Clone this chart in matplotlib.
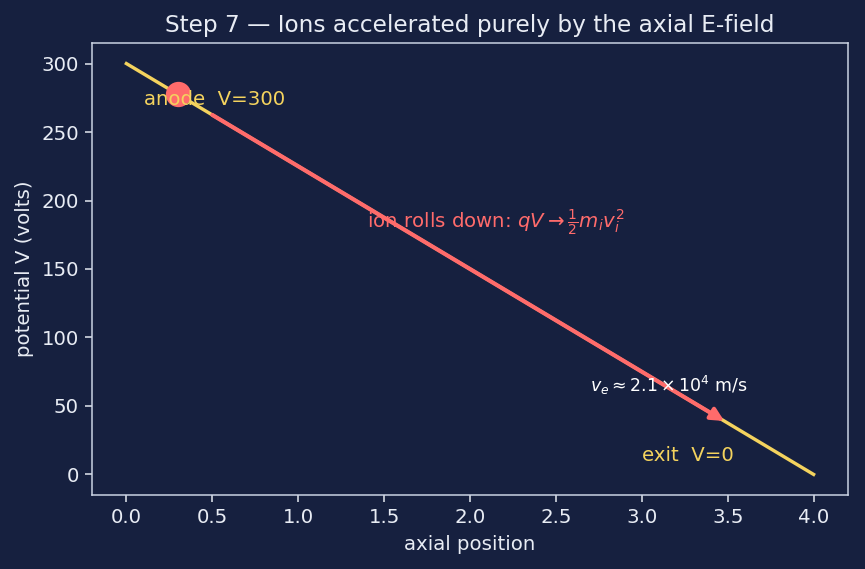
import numpy as np
import matplotlib.pyplot as plt

# data
x_pos = [0.0, 4.0]
potential = [300, 0]
ion_x = 0.3
arrow_start = 0.5
arrow_end = 3.48

bg = '#16203f'
yellow = '#f4d35e'
red = '#ff6b6b'
fg = '#e8ecf4'

def V(x):
    return np.interp(x, x_pos, potential)

fig, ax = plt.subplots(figsize=(865 / 135, 569 / 135), dpi=135)
fig.patch.set_facecolor(bg)
ax.set_facecolor(bg)

ax.plot(x_pos, potential, color=yellow, lw=1.8)
ax.annotate('', xy=(arrow_end, V(arrow_end)), xytext=(arrow_start, V(arrow_start)),
            arrowprops=dict(arrowstyle='-|>', color=red, lw=2.2, mutation_scale=14,
                            shrinkA=0, shrinkB=0))
ax.plot([ion_x], [V(ion_x)], 'o', color=red, markersize=12.5)

ax.text(0.1, 270, 'anode  V=300', color=yellow, fontsize=10.5)
ax.text(3.0, 10, 'exit  V=0', color=yellow, fontsize=10.5)
ax.text(1.4, 180, r'ion rolls down: $qV \to \frac{1}{2} m_i v_i^2$', color=red, fontsize=10.5)
ax.text(2.7, 60, r'$v_e \approx 2.1\times10^4$ m/s', color='white', fontsize=9.3)

ax.set_title('Step 7 — Ions accelerated purely by the axial E-field', color=fg, fontsize=12.4)
ax.set_xlabel('axial position', color=fg, fontsize=10.5)
ax.set_ylabel('potential V (volts)', color=fg, fontsize=10.5)
ax.tick_params(colors=fg, labelsize=10.5)
for s in ax.spines.values():
    s.set_color('#cdd6e6')

fig.subplots_adjust(left=0.1064, right=0.9803, top=0.9244, bottom=0.1301)
plt.savefig('out.png', facecolor=bg)
